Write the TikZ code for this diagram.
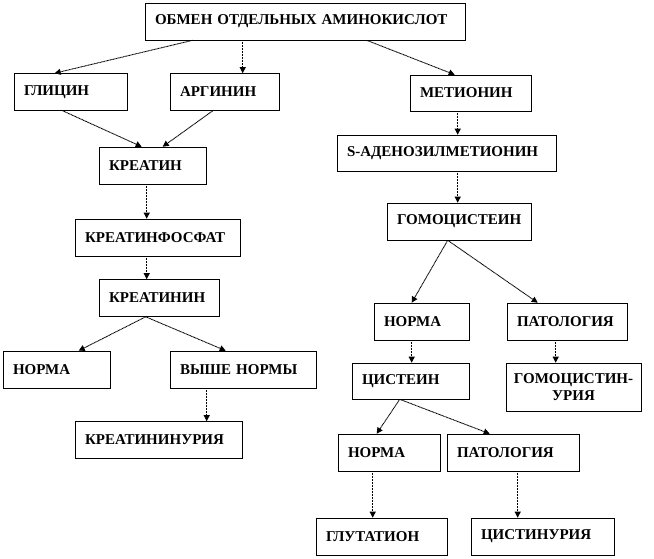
\documentclass[tikz,border=0pt]{standalone}
\usepackage{fontspec}
\setmainfont{Liberation Serif}
\usetikzlibrary{arrows.meta}
\tikzset{%
    box/.style={draw, line width=0.6pt, inner xsep=10pt, inner ysep=2pt, align=left, minimum height=37pt, font=\fontsize{15}{17}\selectfont\bfseries},
    con/.style={line width=0.9pt, dash pattern=on 1pt off 0.5pt, -{Triangle[length=6pt,width=6pt]}},
}
\begin{document}
\begin{tikzpicture}[x=1pt, y=-1pt]
    \useasboundingbox (0,0) rectangle (654,558);
    % left branch
    \node [box, text width=300pt] (obm) at (305,21.5) {ОБМЕН ОТДЕЛЬНЫХ АМИНОКИСЛОТ};
    \node [box, text width=93pt] (gly) at (70.5,92) {ГЛИЦИН};
    \node [box, text width=89pt] (arg) at (224.5,92) {АРГИНИН};
    \node [box, text width=87pt] (kre) at (152.5,165.5) {КРЕАТИН};
    \node [box, text width=145pt] (kf) at (157.5,237.5) {КРЕАТИНФОСФАТ};
    \node [box, text width=100pt] (krn) at (159,298) {КРЕАТИНИН};
    \node [box, text width=87pt] (norma) at (56.5,369.5) {НОРМА};
    \node [box, text width=126pt] (vyshe) at (243,369.5) {ВЫШЕ НОРМЫ};
    \node [box, text width=147pt] (kru) at (158.5,440) {КРЕАТИНИНУРИЯ};
    % right branch
    \node [box, text width=101pt, minimum height=36pt] (met) at (470.5,93) {МЕТИОНИН};
    \node [box, text width=199pt, minimum height=36pt] (sam) at (446.5,153) {S-АДЕНОЗИЛМЕТИОНИН};
    \node [box, text width=124pt] (hcy) at (459,221.5) {ГОМОЦИСТЕИН};
    \node [box, text width=75pt] (normb) at (421.5,321.5) {НОРМА};
    \node [box, text width=100pt] (patb) at (567,321.5) {ПАТОЛОГИЯ};
    \node [box, text width=97pt, minimum height=36pt] (cys) at (410.5,381) {ЦИСТЕИН};
    \node [box, inner xsep=3pt, text width=129pt, minimum height=48pt, align=center] (hcu) at (573.5,387) {ГОМОЦИСТИН-\\УРИЯ};
    \node [box, text width=82pt] (normc) at (389,452.5) {НОРМА};
    \node [box, text width=112pt] (patc) at (513,452.5) {ПАТОЛОГИЯ};
    \node [box, text width=111pt] (glu) at (381.5,536.5) {ГЛУТАТИОН};
    \node [box, text width=123pt] (cyu) at (542.5,536.5) {ЦИСТИНУРИЯ};
    % arrows
    \draw [con]([xshift=48pt]obm.south west) -- ([xshift=41pt]gly.north west);
    \draw [con]([xshift=98pt]obm.south west) -- ([xshift=73pt]arg.north west);
    \draw [con]([xshift=222pt]obm.south west) -- ([xshift=45pt]met.north west);
    \draw [con]([xshift=49pt]gly.south west) -- ([xshift=43pt]kre.north west);
    \draw [con]([xshift=43pt]arg.south west) -- ([xshift=64pt]kre.north west);
    \draw [con]([xshift=48pt]kre.south west) -- ([xshift=72pt]kf.north west);
    \draw [con]([xshift=72pt]kf.south west) -- ([xshift=48pt]krn.north west);
    \draw [con]([xshift=47pt]krn.south west) -- ([xshift=76pt]norma.north west);
    \draw [con]([xshift=47pt]krn.south west) -- ([xshift=56pt]vyshe.north west);
    \draw [con]([xshift=37pt]vyshe.south west) -- ([xshift=132pt]kru.north west);
    \draw [con]([xshift=48pt]met.south west) -- ([xshift=121pt]sam.north west);
    \draw [con]([xshift=121pt]sam.south west) -- ([xshift=71pt]hcy.north west);
    \draw [con]([xshift=61pt]hcy.south west) -- ([xshift=38pt]normb.north west);
    \draw [con]([xshift=61pt]hcy.south west) -- ([xshift=31pt]patb.north west);
    \draw [con]([xshift=38pt]normb.south west) -- ([xshift=60pt]cys.north west);
    \draw [con]([xshift=49pt]patb.south west) -- ([xshift=50pt]hcu.north west);
    \draw [con]([xshift=48pt]cys.south west) -- ([xshift=39pt]normc.north west);
    \draw [con]([xshift=48pt]cys.south west) -- ([xshift=43pt]patc.north west);
    \draw [con]([xshift=35pt]normc.south west) -- ([xshift=57pt]glu.north west);
    \draw [con]([xshift=71pt]patc.south west) -- ([xshift=47pt]cyu.north west);
\end{tikzpicture}
\end{document}
